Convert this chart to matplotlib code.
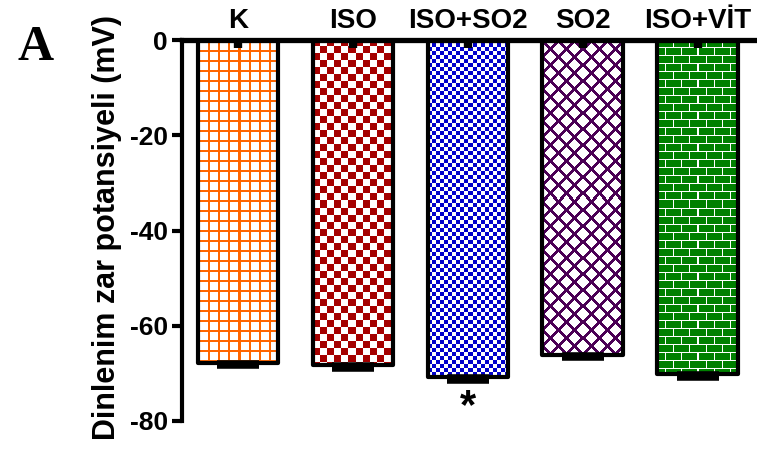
import numpy as np
import matplotlib
matplotlib.use("Agg")
import matplotlib.pyplot as plt
from matplotlib.colors import to_rgb

# ---------------------------------------------------------
# DATA
# ---------------------------------------------------------
groups = ["K", "ISO", "ISO+SO2", "SO2", "ISO+VİT"]
means = [-67.8, -68.3, -70.8, -66.2, -70.2]
sems = [0.7, 0.7, 0.7, 0.6, 0.7]
sig_marks = ["", "", "*", "", ""]
y_ticks = [0, -20, -40, -60, -80]

# ---------------------------------------------------------
# STYLE
# ---------------------------------------------------------
fill_colors = ["#ff6600", "#a50000", "#0000cc", "#4b0055", "#008000"]
fill_styles = ["grid", "checker_big", "checker_small", "diamond", "brick"]

plt.rcParams["font.family"] = ["Liberation Sans", "DejaVu Sans"]
plt.rcParams["font.weight"] = "bold"


def make_pattern(style, color, nx, ny):
    rgb = np.array(to_rgb(color))
    j, i = np.meshgrid(np.arange(nx), np.arange(ny))
    if style == "grid":
        on = (i % 10 < 2) | (j % 10 < 2)
    elif style == "checker_big":
        on = ((i // 7) + (j // 7)) % 2 == 0
    elif style == "checker_small":
        on = ((i // 4) + (j // 4)) % 2 == 0
    elif style == "diamond":
        on = ((i + j) % 16 < 4) | ((i - j) % 16 < 4)
    else:  # brick
        row = i // 8
        mortar = (i % 8 == 0) | ((j + (row % 2) * 8) % 16 == 0)
        on = ~mortar
    img = np.ones((ny, nx, 3))
    img[on] = rgb
    return img


fig = plt.figure(figsize=(7.57, 4.53), dpi=100)
ax = fig.add_axes([182 / 757, 32 / 453, 575 / 757, 381 / 453])

x = np.arange(len(groups))
bar_w = 0.70
ax.set_xlim(-0.487, 4.517)
ax.set_ylim(-80, 0)

# pixels per data unit, used to size the fill patterns
p0 = ax.transData.transform((0, 0))
p1 = ax.transData.transform((1, 1))
px_x = abs(p1[0] - p0[0])
px_y = abs(p1[1] - p0[1])

bars = ax.bar(x, means, width=bar_w, color="white", edgecolor="none", zorder=1)
for b, m, col, sty in zip(bars, means, fill_colors, fill_styles):
    x0 = b.get_x()
    nx = int(round(bar_w * px_x))
    ny = int(round(abs(m) * px_y))
    img = make_pattern(sty, col, nx, ny)
    im = ax.imshow(img, extent=[x0, x0 + bar_w, m, 0], origin="upper",
                   interpolation="nearest", aspect="auto", zorder=2)
    im.set_clip_path(b)

# black outlines on top of the fills
ax.bar(x, means, width=bar_w, facecolor="none", edgecolor="black",
       linewidth=3, joinstyle="round", zorder=3)

# error bars (SEM) and the small tab under the zero line
ax.errorbar(x, means, yerr=[sems, [0] * len(sems)], fmt="none", ecolor="black",
            elinewidth=3, capsize=15, capthick=4, zorder=4)
for xi in x:
    ax.plot([xi, xi], [0, -1.6], color="black", lw=6,
            solid_capstyle="butt", zorder=4)

for xi, m, s, mark in zip(x, means, sems, sig_marks):
    if mark:
        ax.text(xi, m - s - 5.6, mark, ha="center", va="center",
                fontsize=30, fontweight="bold", zorder=5)

ax.set_xlim(-0.487, 4.517)
ax.set_ylim(-80, 0)

# axes styling
for side in ["right", "bottom"]:
    ax.spines[side].set_visible(False)
ax.spines["left"].set_linewidth(3)
ax.spines["top"].set_linewidth(3.8)
ax.spines["left"].set_zorder(6)
ax.spines["top"].set_zorder(6)

ax.xaxis.tick_top()
ax.set_xticks(x)
ax.set_xticklabels(groups, fontsize=20, fontweight="bold")
ax.tick_params(axis="x", length=0, pad=4)

ax.set_yticks(y_ticks)
ax.set_yticklabels([str(t) for t in y_ticks], fontsize=19, fontweight="bold")
ax.tick_params(axis="y", length=7, width=3, pad=3)

fig.text(107 / 757, 1 - 227 / 453, "Dinlenim zar potansiyeli (mV)",
         rotation=90, ha="center", va="center", fontsize=22, fontweight="bold")
fig.text(18 / 757, 1 - 48 / 453, "A", ha="left", va="center",
         fontsize=36, fontweight="bold",
         family=["Liberation Serif", "DejaVu Serif"])

fig.savefig("out.png", dpi=100)
